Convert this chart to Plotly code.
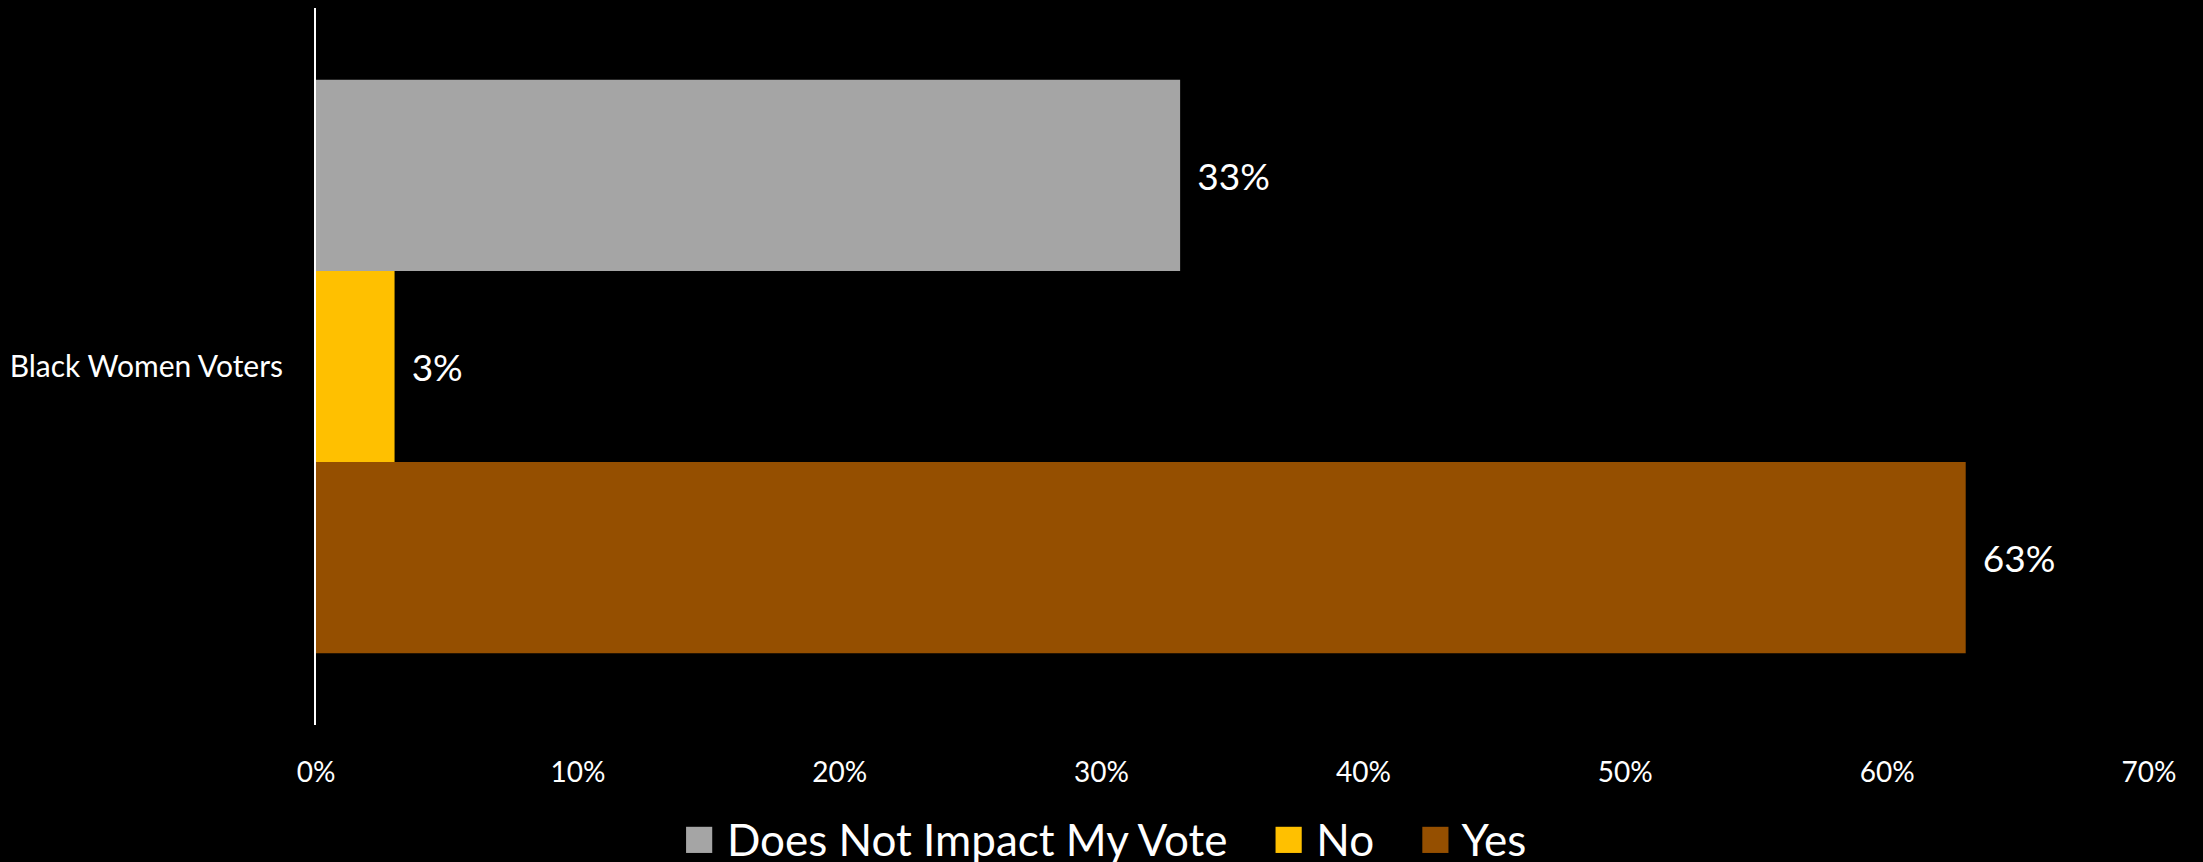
import plotly.graph_objects as go

categories = ["Black Women Voters"]
series_names = ["Does Not Impact My Vote", "No", "Yes"]
series_values = [[0.33], [0.03], [0.63]]
series_colors = ["#A5A5A5", "#FFC000", "#954F00"]
x_ticks = [0, 0.1, 0.2, 0.3, 0.4, 0.5, 0.6, 0.7]

FONT = "Lato"
W, H = 2203, 862

fig = go.Figure()
for name, vals, col in zip(series_names, series_values, series_colors):
    fig.add_trace(go.Bar(
        y=categories, x=vals, name=name, orientation="h",
        marker=dict(color=col, line=dict(width=0)),
        texttemplate="\u00a0\u2009%{x:.0%}", textposition="outside",
        textfont=dict(family=FONT, size=37, color="white"),
        cliponaxis=False, showlegend=False,
    ))

# Legend drawn as one centred line of text with coloured square glyphs
sep = "\u00a0" * 4
legend_text = sep.join(
    f"<span style='color:{c};font-size:54px'>\u25A0</span>\u00a0{n}"
    for n, c in zip(series_names, series_colors)
)
fig.add_annotation(
    xref="paper", yref="paper", x=(1104 - 316) / 1833, y=(725 - 835) / 717,
    xanchor="center", yanchor="middle", showarrow=False,
    text=legend_text, font=dict(family=FONT, size=44, color="white"),
)

fig.update_layout(
    width=W, height=H,
    paper_bgcolor="black", plot_bgcolor="black",
    margin=dict(l=316, r=54, t=8, b=137),
    barmode="group", bargap=0.2, bargroupgap=0,
    font=dict(family=FONT, color="white"),
    showlegend=False,
    xaxis=dict(
        range=[0, 0.7], tickvals=x_ticks, tickformat=".0%",
        showgrid=False, zeroline=False, showline=False,
        ticks="", ticklabelstandoff=28,
        tickfont=dict(family=FONT, size=28, color="white"),
        fixedrange=True,
    ),
    yaxis=dict(
        autorange="reversed", showgrid=False, zeroline=False,
        showline=True, linecolor="white", linewidth=2,
        ticks="", ticklabelstandoff=25,
        tickfont=dict(family=FONT, size=30, color="white"),
        fixedrange=True,
    ),
)

fig.write_html(
    "out.html",
    config={"displayModeBar": False},
    post_script="document.body.style.margin='0';document.body.style.background='black';",
)
